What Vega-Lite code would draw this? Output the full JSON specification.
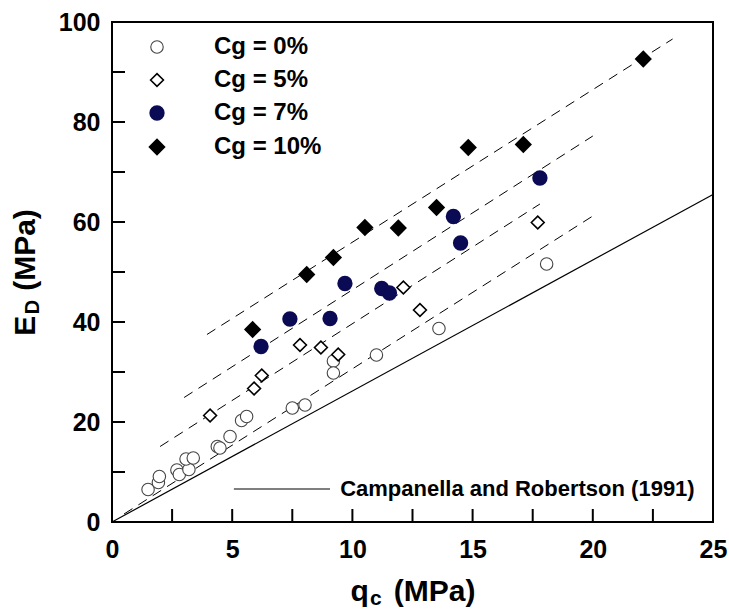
{
  "$schema": "https://vega.github.io/schema/vega-lite/v6.json",
  "width": 601,
  "height": 500,
  "autosize": {"type": "none"},
  "padding": {"left": 112, "top": 22, "right": 16, "bottom": 87},
  "background": "white",
  "config": {
    "view": {"stroke": "black", "strokeWidth": 2},
    "font": "Liberation Sans",
    "axis": {
      "labelFont": "Liberation Sans",
      "labelFontSize": 25,
      "labelFontWeight": "bold",
      "labelColor": "black",
      "labelOverlap": false,
      "labelFlush": false,
      "titleFont": "Liberation Sans",
      "titleFontSize": 30,
      "titleFontWeight": "bold",
      "titleColor": "black"
    }
  },
  "datasets": {
    "points": [
      {"qc": 1.5, "ed": 6.5, "Cg": "Cg = 0%"},
      {"qc": 1.93, "ed": 7.9, "Cg": "Cg = 0%"},
      {"qc": 1.97, "ed": 9.1, "Cg": "Cg = 0%"},
      {"qc": 2.7, "ed": 10.4, "Cg": "Cg = 0%"},
      {"qc": 2.8, "ed": 9.5, "Cg": "Cg = 0%"},
      {"qc": 3.2, "ed": 10.5, "Cg": "Cg = 0%"},
      {"qc": 3.08, "ed": 12.6, "Cg": "Cg = 0%"},
      {"qc": 3.38, "ed": 12.8, "Cg": "Cg = 0%"},
      {"qc": 4.38, "ed": 15.1, "Cg": "Cg = 0%"},
      {"qc": 4.49, "ed": 14.8, "Cg": "Cg = 0%"},
      {"qc": 4.91, "ed": 17.1, "Cg": "Cg = 0%"},
      {"qc": 5.39, "ed": 20.3, "Cg": "Cg = 0%"},
      {"qc": 5.6, "ed": 21.1, "Cg": "Cg = 0%"},
      {"qc": 7.5, "ed": 22.8, "Cg": "Cg = 0%"},
      {"qc": 8.03, "ed": 23.4, "Cg": "Cg = 0%"},
      {"qc": 9.21, "ed": 32.2, "Cg": "Cg = 0%"},
      {"qc": 9.21, "ed": 29.8, "Cg": "Cg = 0%"},
      {"qc": 11.0, "ed": 33.4, "Cg": "Cg = 0%"},
      {"qc": 13.6, "ed": 38.7, "Cg": "Cg = 0%"},
      {"qc": 18.08, "ed": 51.6, "Cg": "Cg = 0%"},
      {"qc": 4.08, "ed": 21.3, "Cg": "Cg = 5%"},
      {"qc": 5.91, "ed": 26.7, "Cg": "Cg = 5%"},
      {"qc": 6.23, "ed": 29.3, "Cg": "Cg = 5%"},
      {"qc": 7.82, "ed": 35.4, "Cg": "Cg = 5%"},
      {"qc": 8.69, "ed": 34.9, "Cg": "Cg = 5%"},
      {"qc": 9.41, "ed": 33.5, "Cg": "Cg = 5%"},
      {"qc": 12.12, "ed": 46.9, "Cg": "Cg = 5%"},
      {"qc": 12.81, "ed": 42.4, "Cg": "Cg = 5%"},
      {"qc": 17.71, "ed": 59.9, "Cg": "Cg = 5%"},
      {"qc": 6.2, "ed": 35.1, "Cg": "Cg = 7%"},
      {"qc": 7.4, "ed": 40.6, "Cg": "Cg = 7%"},
      {"qc": 9.07, "ed": 40.7, "Cg": "Cg = 7%"},
      {"qc": 9.69, "ed": 47.7, "Cg": "Cg = 7%"},
      {"qc": 11.22, "ed": 46.7, "Cg": "Cg = 7%"},
      {"qc": 11.54, "ed": 45.8, "Cg": "Cg = 7%"},
      {"qc": 14.2, "ed": 61.1, "Cg": "Cg = 7%"},
      {"qc": 14.5, "ed": 55.8, "Cg": "Cg = 7%"},
      {"qc": 17.8, "ed": 68.8, "Cg": "Cg = 7%"},
      {"qc": 5.85, "ed": 38.5, "Cg": "Cg = 10%"},
      {"qc": 8.1, "ed": 49.5, "Cg": "Cg = 10%"},
      {"qc": 9.21, "ed": 52.9, "Cg": "Cg = 10%"},
      {"qc": 10.52, "ed": 58.9, "Cg": "Cg = 10%"},
      {"qc": 11.91, "ed": 58.8, "Cg": "Cg = 10%"},
      {"qc": 13.5, "ed": 62.9, "Cg": "Cg = 10%"},
      {"qc": 14.82, "ed": 74.9, "Cg": "Cg = 10%"},
      {"qc": 17.11, "ed": 75.5, "Cg": "Cg = 10%"},
      {"qc": 22.1, "ed": 92.6, "Cg": "Cg = 10%"}
    ],
    "fits": [
      {"qc": 0.5, "ed": 1.6, "series": "0%"},
      {"qc": 20.0, "ed": 61.2, "series": "0%"},
      {"qc": 2.0, "ed": 15.1, "series": "5%"},
      {"qc": 17.8, "ed": 63.6, "series": "5%"},
      {"qc": 3.0, "ed": 24.9, "series": "7%"},
      {"qc": 20.0, "ed": 77.2, "series": "7%"},
      {"qc": 3.95, "ed": 37.5, "series": "10%"},
      {"qc": 23.32, "ed": 96.6, "series": "10%"}
    ],
    "cr": [
      {"qc": 0, "ed": 0},
      {"qc": 25, "ed": 65.5}
    ],
    "xticks": [
      {"v": 2.5, "a": 0, "b": 2.6}, {"v": 5, "a": 0, "b": 2.6}, {"v": 7.5, "a": 0, "b": 2.6},
      {"v": 10, "a": 0, "b": 2.6}, {"v": 12.5, "a": 0, "b": 2.6}, {"v": 15, "a": 0, "b": 2.6},
      {"v": 17.5, "a": 0, "b": 2.6}, {"v": 20, "a": 0, "b": 2.6}, {"v": 22.5, "a": 0, "b": 2.6}
    ],
    "yticks": [
      {"v": 10, "a": 0, "b": 0.54}, {"v": 20, "a": 0, "b": 0.54}, {"v": 30, "a": 0, "b": 0.54},
      {"v": 40, "a": 0, "b": 0.54}, {"v": 50, "a": 0, "b": 0.54}, {"v": 60, "a": 0, "b": 0.54},
      {"v": 70, "a": 0, "b": 0.54}, {"v": 80, "a": 0, "b": 0.54}, {"v": 90, "a": 0, "b": 0.54}
    ],
    "note": [
      {"x1": 5.07, "x2": 9.07, "xt": 9.49, "y": 6.6, "label": "Campanella and Robertson (1991)"}
    ],
    "subs": [
      {"qc": 10.98, "ed": -15.4, "t": "c"}
    ],
    "subsY": [
      {"qc": -3.3, "ed": 43.0, "t": "D"}
    ]
  },
  "encoding": {
    "x": {
      "field": "qc",
      "type": "quantitative",
      "scale": {"domain": [0, 25], "nice": false, "zero": false},
      "axis": {
        "values": [0, 5, 10, 15, 20, 25],
        "ticks": false,
        "domain": false,
        "grid": false,
        "labelPadding": 15,
        "title": "q\u00a0\u00a0\u00a0(MPa)",
        "titlePadding": 14
      }
    },
    "y": {
      "field": "ed",
      "type": "quantitative",
      "scale": {"domain": [0, 100], "nice": false, "zero": false},
      "axis": {
        "values": [0, 20, 40, 60, 80, 100],
        "ticks": false,
        "domain": false,
        "grid": false,
        "labelPadding": 12,
        "title": "E\u00a0\u00a0\u00a0(MPa)",
        "titlePadding": 18
      }
    }
  },
  "layer": [
    {
      "data": {"name": "xticks"},
      "mark": {"type": "rule", "color": "black", "strokeWidth": 2},
      "encoding": {
        "x": {"field": "v", "type": "quantitative"},
        "y": {"field": "a", "type": "quantitative"},
        "y2": {"field": "b"}
      }
    },
    {
      "data": {"name": "yticks"},
      "mark": {"type": "rule", "color": "black", "strokeWidth": 2},
      "encoding": {
        "y": {"field": "v", "type": "quantitative"},
        "x": {"field": "a", "type": "quantitative"},
        "x2": {"field": "b"}
      }
    },
    {
      "data": {"name": "fits"},
      "mark": {"type": "line", "strokeDash": [10, 7], "color": "black", "strokeWidth": 1},
      "encoding": {"detail": {"field": "series"}}
    },
    {
      "data": {"name": "cr"},
      "mark": {"type": "line", "color": "black", "strokeWidth": 1.2},
      "encoding": {}
    },
    {
      "data": {"name": "note"},
      "mark": {"type": "rule", "color": "#555555", "strokeWidth": 1.5},
      "encoding": {
        "x": {"field": "x1", "type": "quantitative"},
        "x2": {"field": "x2"},
        "y": {"field": "y", "type": "quantitative"}
      }
    },
    {
      "data": {"name": "note"},
      "mark": {"type": "text", "align": "left", "baseline": "middle", "fontSize": 22, "fontWeight": "bold", "font": "Liberation Sans", "color": "black"},
      "encoding": {
        "x": {"field": "xt", "type": "quantitative"},
        "y": {"field": "y", "type": "quantitative"},
        "text": {"field": "label"}
      }
    },
    {
      "data": {"name": "subs"},
      "mark": {"type": "text", "align": "center", "baseline": "middle", "fontSize": 21, "fontWeight": "bold", "font": "Liberation Sans", "color": "black"},
      "encoding": {"text": {"field": "t"}}
    },
    {
      "data": {"name": "subsY"},
      "mark": {"type": "text", "align": "center", "baseline": "middle", "angle": 270, "fontSize": 20, "fontWeight": "bold", "font": "Liberation Sans", "color": "black"},
      "encoding": {"text": {"field": "t"}}
    },
    {
      "data": {"name": "points"},
      "mark": {"type": "point", "opacity": 1},
      "encoding": {
        "shape": {
          "field": "Cg", "type": "nominal",
          "scale": {"domain": ["Cg = 0%", "Cg = 5%", "Cg = 7%", "Cg = 10%"], "range": ["circle", "diamond", "circle", "diamond"]},
          "legend": {"title": null, "orient": "none", "legendX": 33, "legendY": 13, "padding": 0, "labelFontSize": 24, "labelFontWeight": "bold", "labelFont": "Liberation Sans", "labelColor": "black", "rowPadding": 9, "labelOffset": 45, "symbolOpacity": 1}
        },
        "fill": {
          "field": "Cg", "type": "nominal",
          "scale": {"domain": ["Cg = 0%", "Cg = 5%", "Cg = 7%", "Cg = 10%"], "range": ["white", "white", "#0b0b55", "black"]},
          "legend": {"title": null, "orient": "none", "legendX": 33, "legendY": 13, "padding": 0, "labelFontSize": 24, "labelFontWeight": "bold", "labelFont": "Liberation Sans", "labelColor": "black", "rowPadding": 9, "labelOffset": 45, "symbolOpacity": 1}
        },
        "stroke": {
          "field": "Cg", "type": "nominal",
          "scale": {"domain": ["Cg = 0%", "Cg = 5%", "Cg = 7%", "Cg = 10%"], "range": ["#444444", "black", "#0b0b55", "black"]},
          "legend": {"title": null, "orient": "none", "legendX": 33, "legendY": 13, "padding": 0, "labelFontSize": 24, "labelFontWeight": "bold", "labelFont": "Liberation Sans", "labelColor": "black", "rowPadding": 9, "labelOffset": 45, "symbolOpacity": 1}
        },
        "strokeWidth": {
          "field": "Cg", "type": "nominal",
          "scale": {"domain": ["Cg = 0%", "Cg = 5%", "Cg = 7%", "Cg = 10%"], "range": [1.1, 2.6, 0.5, 0.5]},
          "legend": {"title": null, "orient": "none", "legendX": 33, "legendY": 13, "padding": 0, "labelFontSize": 24, "labelFontWeight": "bold", "labelFont": "Liberation Sans", "labelColor": "black", "rowPadding": 9, "labelOffset": 45, "symbolOpacity": 1}
        },
        "size": {
          "field": "Cg", "type": "nominal",
          "scale": {"domain": ["Cg = 0%", "Cg = 5%", "Cg = 7%", "Cg = 10%"], "range": [155, 185, 175, 210]},
          "legend": {"title": null, "orient": "none", "legendX": 33, "legendY": 13, "padding": 0, "labelFontSize": 24, "labelFontWeight": "bold", "labelFont": "Liberation Sans", "labelColor": "black", "rowPadding": 9, "labelOffset": 45, "symbolOpacity": 1}
        }
      }
    }
  ]
}
